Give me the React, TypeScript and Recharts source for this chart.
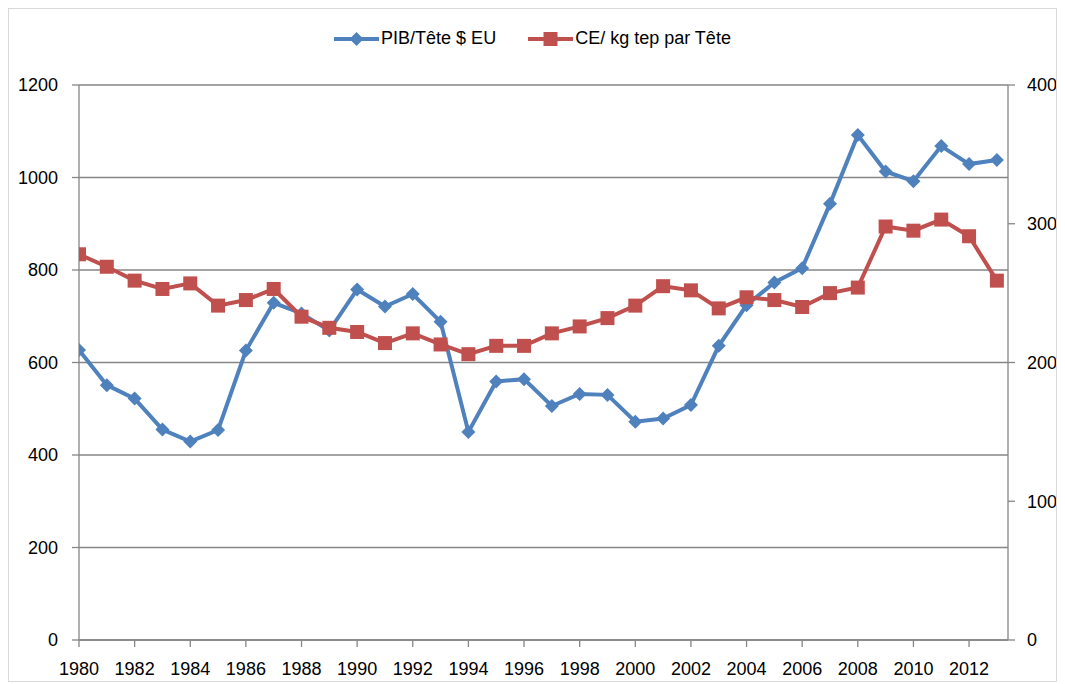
import React from 'react';
import { LineChart, Line, XAxis, YAxis, CartesianGrid, Legend } from 'recharts';

const years = [
  1980, 1981, 1982, 1983, 1984, 1985, 1986, 1987, 1988, 1989, 1990, 1991,
  1992, 1993, 1994, 1995, 1996, 1997, 1998, 1999, 2000, 2001, 2002, 2003,
  2004, 2005, 2006, 2007, 2008, 2009, 2010, 2011, 2012, 2013,
];

// PIB par tête ($ EU), axe de gauche
const pibValues = [
  627, 551, 522, 455, 429, 454, 626, 729, 706, 669, 758, 721,
  748, 688, 450, 559, 564, 506, 532, 530, 472, 479, 508, 636,
  724, 773, 804, 943, 1092, 1013, 992, 1068, 1029, 1038,
];

// Consommation d'énergie kg tep par tête, axe de droite
const ceValues = [
  278, 269, 259, 253, 257, 241, 245, 253, 233, 225, 222, 214,
  221, 213, 206, 212, 212, 221, 226, 232, 241, 255, 252, 239,
  247, 245, 240, 250, 254, 298, 295, 303, 291, 259,
];

const xTicks = [1980, 1982, 1984, 1986, 1988, 1990, 1992, 1994, 1996, 1998, 2000, 2002, 2004, 2006, 2008, 2010, 2012];
const leftTicks = [0, 200, 400, 600, 800, 1000, 1200];
const rightTicks = [0, 100, 200, 300, 400];

const pibName = 'PIB/Tête $ EU';
const ceName = 'CE/ kg tep par Tête';

const BLUE = '#4F81BD';
const RED = '#C0504D';
const AXIS = '#868686';
const FONT = '"Liberation Sans", Arial, sans-serif';

const data = years.map((year, i) => ({ year, pib: pibValues[i], ce: ceValues[i] }));

const Diamond = (props: any) => {
  const { cx, cy, index } = props;
  if (cx == null || cy == null) return <g key={`d-${index}`} />;
  const r = 7;
  return (
    <path
      key={`d-${index}`}
      d={`M${cx},${cy - r}L${cx + r},${cy}L${cx},${cy + r}L${cx - r},${cy}Z`}
      fill={BLUE}
    />
  );
};

const Square = (props: any) => {
  const { cx, cy, index } = props;
  if (cx == null || cy == null) return <g key={`s-${index}`} />;
  const h = 7;
  return <rect key={`s-${index}`} x={cx - h} y={cy - h} width={h * 2} height={h * 2} fill={RED} />;
};

const LegendContent = () => (
  <div style={{ display: 'flex', justifyContent: 'center', alignItems: 'center', fontFamily: FONT, fontSize: 18, color: '#000' }}>
    <svg width={45} height={16} style={{ marginRight: 2 }}>
      <line x1={0} y1={8} x2={45} y2={8} stroke={BLUE} strokeWidth={4} />
      <path d="M22.5,1L29.5,8L22.5,15L15.5,8Z" fill={BLUE} />
    </svg>
    <span style={{ marginRight: 32 }}>{pibName}</span>
    <svg width={45} height={16} style={{ marginRight: 2 }}>
      <line x1={0} y1={8} x2={45} y2={8} stroke={RED} strokeWidth={4} />
      <rect x={15.5} y={1} width={14} height={14} fill={RED} />
    </svg>
    <span>{ceName}</span>
  </div>
);

const tickStyle = { fill: '#000', fontFamily: FONT, fontSize: 18 };

export default function App() {
  return (
    <div style={{ width: 1047, height: 672, border: '1px solid #d9d9d9', background: '#fff' }}>
      <LineChart width={1047} height={672} data={data} margin={{ top: 76, right: 0, bottom: 0, left: 0 }}>
        <CartesianGrid yAxisId="left" horizontal vertical={false} stroke={AXIS} strokeWidth={1.3} />
        <XAxis
          dataKey="year"
          type="number"
          domain={[1980, 2013.4]}
          ticks={xTicks}
          allowDataOverflow
          height={41}
          stroke={AXIS}
          strokeWidth={1.3}
          tickSize={7}
          tickMargin={15}
          tick={tickStyle}
        />
        <YAxis
          yAxisId="left"
          domain={[0, 1200]}
          ticks={leftTicks}
          width={70}
          stroke={AXIS}
          strokeWidth={1.3}
          tickSize={7}
          tickMargin={14}
          tick={tickStyle}
        />
        <YAxis
          yAxisId="right"
          orientation="right"
          domain={[0, 400]}
          ticks={rightTicks}
          width={48}
          stroke={AXIS}
          strokeWidth={1.3}
          tickSize={7}
          tickMargin={12}
          tick={tickStyle}
        />
        <Legend
          verticalAlign="middle"
          align="center"
          content={<LegendContent />}
          wrapperStyle={{ top: 19, left: 0, width: 1047 }}
        />
        <Line
          yAxisId="left"
          dataKey="pib"
          name={pibName}
          stroke={BLUE}
          strokeWidth={4}
          dot={Diamond}
          activeDot={false}
          isAnimationActive={false}
        />
        <Line
          yAxisId="right"
          dataKey="ce"
          name={ceName}
          stroke={RED}
          strokeWidth={4}
          dot={Square}
          activeDot={false}
          isAnimationActive={false}
        />
      </LineChart>
    </div>
  );
}
